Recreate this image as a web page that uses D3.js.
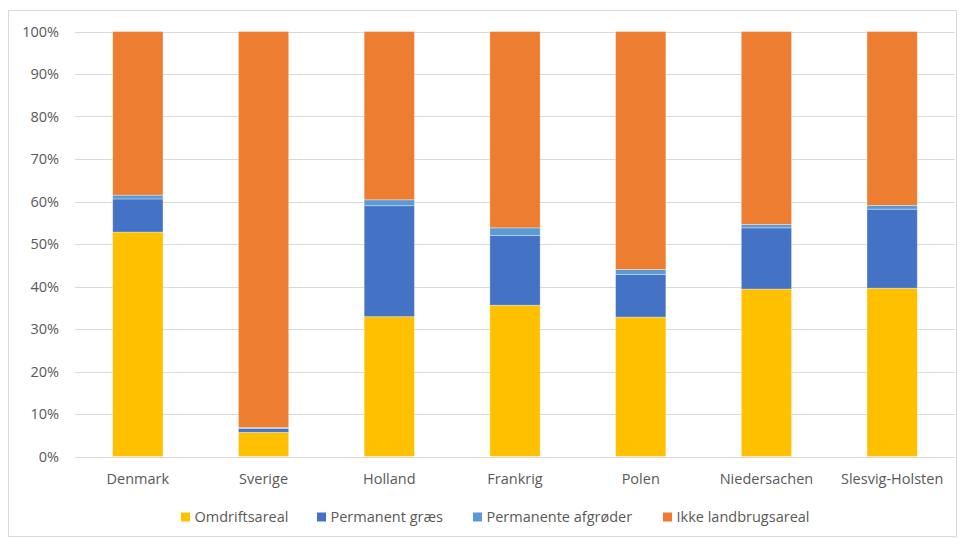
<!DOCTYPE html>
<html>
<head>
<meta charset="utf-8">
<script src="https://cdn.jsdelivr.net/npm/d3@7"></script>
<style>
  html, body { margin: 0; padding: 0; background: #fff; }
  svg { display: block; }
  text { font-family: "Open Sans", "Liberation Sans", sans-serif; fill: #595959; }
</style>
</head>
<body>
<svg id="chart" width="963" height="538"></svg>
<script>
// Land use share by region (percent of total area)
const categories = ["Denmark", "Sverige", "Holland", "Frankrig", "Polen", "Niedersachen", "Slesvig-Holsten"];
const seriesNames = ["Omdriftsareal", "Permanent græs", "Permanente afgrøder", "Ikke landbrugsareal"];
const omdriftsareal      = [52.8, 5.7, 32.9, 35.6, 32.8, 39.4, 39.6];
const permanentGraes     = [7.8, 0.9, 26.1, 16.4, 10.0, 14.4, 18.6];
const permanenteAfgroder = [0.9, 0.2, 1.4, 1.8, 1.2, 0.8, 0.9];
const ikkeLandbrugsareal = [38.5, 93.2, 39.6, 46.2, 56.0, 45.4, 40.9];
const yTicks = [0, 10, 20, 30, 40, 50, 60, 70, 80, 90, 100];
const colors = ["#FFC000", "#4472C4", "#5B9BD5", "#ED7D31"];

const svg = d3.select("#chart");
const FONT = "'Open Sans', 'Liberation Sans', sans-serif";
const FS = 14.5;

// chart frame
svg.append("rect")
  .attr("x", 8.5).attr("y", 10.5)
  .attr("width", 948).attr("height", 526)
  .attr("fill", "#fff").attr("stroke", "#d9d9d9").attr("stroke-width", 1);

const plot = { left: 75, right: 955, top: 31.5, bottom: 456.5 };

const rows = categories.map((c, i) => ({
  category: c,
  [seriesNames[0]]: omdriftsareal[i],
  [seriesNames[1]]: permanentGraes[i],
  [seriesNames[2]]: permanenteAfgroder[i],
  [seriesNames[3]]: ikkeLandbrugsareal[i]
}));

// normalise each stack to 100 %
rows.forEach(r => {
  const tot = d3.sum(seriesNames, k => r[k]);
  seriesNames.forEach(k => r[k] = r[k] / tot * 100);
});

const x = d3.scaleBand().domain(categories).range([plot.left, plot.right]).paddingInner(0.6).paddingOuter(0.3);
const y = d3.scaleLinear().domain([0, 100]).range([plot.bottom, plot.top]);

// gridlines
svg.append("g")
  .selectAll("line").data(yTicks).join("line")
  .attr("x1", plot.left).attr("x2", plot.right)
  .attr("y1", d => Math.round(y(d)) + 0.5).attr("y2", d => Math.round(y(d)) + 0.5)
  .attr("stroke", "#d9d9d9").attr("stroke-width", 1);

// y axis labels
const yAxis = d3.axisLeft(y).tickValues(yTicks).tickFormat(d => d + "%").tickSize(0).tickPadding(0);
const gy = svg.append("g").attr("transform", `translate(${plot.left - 16},0)`).call(yAxis);
gy.select(".domain").remove();
gy.selectAll("text").attr("font-size", FS).style("font-family", FONT).attr("fill", "#595959");

// x axis labels
const xAxis = d3.axisBottom(x).tickSize(0).tickPadding(0);
const gx = svg.append("g").attr("transform", `translate(0,${plot.bottom + 17})`).call(xAxis);
gx.select(".domain").remove();
gx.selectAll("text").attr("font-size", FS).style("font-family", FONT).attr("fill", "#595959");

// stacked bars
const stack = d3.stack().keys(seriesNames);
const layers = stack(rows);

svg.append("g")
  .selectAll("g").data(layers).join("g")
  .attr("fill", (d, i) => colors[i])
  .selectAll("rect").data(d => d).join("rect")
  .attr("x", d => x(d.data.category))
  .attr("width", x.bandwidth())
  .attr("y", d => y(d[1]))
  .attr("height", d => y(d[0]) - y(d[1]))
  .attr("stroke", "#ffffff").attr("stroke-opacity", 0.45).attr("stroke-width", 0.75);

// legend
const legendX = [181, 317, 473, 663];
const lg = svg.append("g").selectAll("g").data(seriesNames).join("g")
  .attr("transform", (d, i) => `translate(${legendX[i]},512.5)`);
lg.append("rect").attr("width", 9).attr("height", 9).attr("fill", (d, i) => colors[i]);
lg.append("text").attr("x", 13.5).attr("y", 9).attr("font-size", FS).style("font-family", FONT).text(d => d);
</script>
</body>
</html>
